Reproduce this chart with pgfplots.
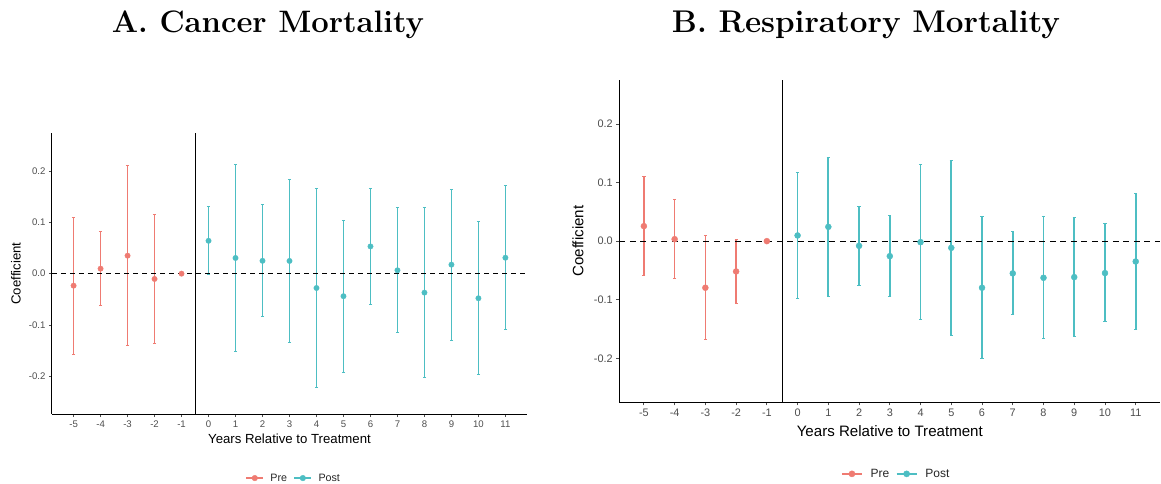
\documentclass[border=0pt]{standalone}
\usepackage{pgfplots}
\pgfplotsset{compat=1.18}
\usepackage{pgfplotstable}
\usepackage{fontspec}
\setsansfont{Liberation Sans}
\definecolor{prec}{HTML}{EF7B72}
\definecolor{postc}{HTML}{4DBEC3}
\definecolor{tickgray}{HTML}{4D4D4D}

\pgfplotstableread{
x y lo hi
-5 -0.0234 -0.157 0.109
-4 0.0097 -0.062 0.082
-3 0.035 -0.141 0.211
-2 -0.0104 -0.136 0.115
-1 0 0 0
}\preA
\pgfplotstableread{
x y lo hi
0 0.064 -0.0026 0.130
1 0.0305 -0.151 0.212
2 0.025 -0.084 0.135
3 0.0247 -0.134 0.183
4 -0.028 -0.222 0.166
5 -0.044 -0.192 0.104
6 0.053 -0.060 0.166
7 0.0065 -0.114 0.129
8 -0.037 -0.202 0.128
9 0.0175 -0.130 0.164
10 -0.048 -0.196 0.101
11 0.031 -0.109 0.171
}\postA
\pgfplotstableread{
x y lo hi
-5 0.0256 -0.059 0.110
-4 0.0034 -0.0636 0.0705
-3 -0.0795 -0.168 0.0097
-2 -0.0517 -0.1057 0.0023
-1 0 0 0
}\preB
\pgfplotstableread{
x y lo hi
0 0.0097 -0.0977 0.1165
1 0.0244 -0.094 0.143
2 -0.008 -0.075 0.0597
3 -0.0256 -0.094 0.043
4 -0.0017 -0.134 0.131
5 -0.0114 -0.161 0.138
6 -0.0795 -0.2006 0.0415
7 -0.055 -0.126 0.0165
8 -0.0625 -0.1665 0.0415
9 -0.0614 -0.162 0.0398
10 -0.0545 -0.1375 0.0295
11 -0.0347 -0.1506 0.0813
}\postB

\pgfplotsset{
  es/.style={
    scale only axis,
    axis x line*=bottom, axis y line*=left,
    axis line style={black, line width=1pt, -},
    tick align=outside,
    major tick length=3pt,
    tick style={tickgray, line width=0.8pt},
    xmin=-5.8, xmax=11.8,
    xtick={-5,-4,-3,-2,-1,0,1,2,3,4,5,6,7,8,9,10,11},
    xticklabels={-5,-4,-3,-2,-1,0,1,2,3,4,5,6,7,8,9,10,11},
    ytick={-0.2,-0.1,0,0.1,0.2},
    yticklabels={-0.2,-0.1,0.0,0.1,0.2},
    /pgf/number format/assume math mode=true,
    xlabel={Years Relative to Treatment},
    ylabel={Coefficient},
    legend columns=2,
    clip=false,
  },
  eb/.style={
    only marks, mark=*, color=#1,
    mark options={fill=#1, draw=#1},
    error bars/.cd, y dir=both, y explicit,
    error bar style={line width=1.7pt, color=#1},
    error mark options={rotate=90, mark size=1.6pt, line width=1pt, color=#1},
    /pgfplots/.cd,
  },
}

\begin{document}
\begin{tikzpicture}
\useasboundingbox (0,0) rectangle (1161pt,483pt);

% Panel A
\begin{axis}[es,
  at={(52pt,69pt)}, anchor=south west,
  width=475pt, height=281pt,
  ymin=-0.2735, ymax=0.274,
  title={A. Cancer Mortality},
  title style={at={(axis description cs:0.4547,1.338)}, anchor=base,
    font=\rmfamily\bfseries\fontsize{31}{36}\selectfont},
  ticklabel style={font=\sffamily\fontsize{9.6}{11}\selectfont, text=tickgray},
  xlabel style={at={(axis description cs:0.5,-0.089)}, anchor=center,
    font=\sffamily\fontsize{13.2}{15}\selectfont},
  ylabel style={at={(axis description cs:-0.0758,0.5)}, anchor=center,
    font=\sffamily\fontsize{13.2}{15}\selectfont},
  legend style={draw=none, fill=none, at={(0.509,-0.228)}, anchor=center,
    font=\sffamily\fontsize{10.7}{12}\selectfont, text=black!85,
    /tikz/every even column/.append style={column sep=4.5pt},
    /tikz/every odd column/.append style={column sep=4.5pt}},
  mark size=2.7pt,
]
\addplot[legend image code/.code={\draw[prec, line width=1.4pt] (0pt,0pt) -- (17pt,0pt); \fill[prec] (8.5pt,0pt) circle (2.8pt);}, eb=prec]
  table[x=x, y=y, y error plus expr=\thisrow{hi}-\thisrow{y}, y error minus expr=\thisrow{y}-\thisrow{lo}] {\preA};
\addlegendentry{Pre}
\addplot[legend image code/.code={\draw[postc, line width=1.4pt] (0pt,0pt) -- (17pt,0pt); \fill[postc] (8.5pt,0pt) circle (2.8pt);}, eb=postc]
  table[x=x, y=y, y error plus expr=\thisrow{hi}-\thisrow{y}, y error minus expr=\thisrow{y}-\thisrow{lo}] {\postA};
\addlegendentry{Post}
\addplot[forget plot, black, line width=1pt, dash pattern=on 5pt off 4pt] coordinates {(-5.8,0) (11.8,0)};
\addplot[forget plot, black, line width=1pt] coordinates {(-0.5,-0.2735) (-0.5,0.274)};
\end{axis}

% Panel B
\begin{axis}[es,
  at={(619.3pt,80.7pt)}, anchor=south west,
  width=541pt, height=322.3pt,
  ymin=-0.275, ymax=0.275,
  title={B. Respiratory Mortality},
  title style={at={(axis description cs:0.456,1.130)}, anchor=base,
    font=\rmfamily\bfseries\fontsize{31.4}{36}\selectfont},
  ticklabel style={font=\sffamily\fontsize{10.9}{12}\selectfont, text=tickgray},
  xlabel style={at={(axis description cs:0.5,-0.088)}, anchor=center,
    font=\sffamily\fontsize{15.1}{17}\selectfont},
  ylabel style={at={(axis description cs:-0.0763,0.5)}, anchor=center,
    font=\sffamily\fontsize{15.1}{17}\selectfont},
  legend style={draw=none, fill=none, at={(0.512,-0.222)}, anchor=center,
    font=\sffamily\fontsize{12}{13}\selectfont, text=black!85,
    /tikz/every even column/.append style={column sep=4.5pt},
    /tikz/every odd column/.append style={column sep=6pt}},
  mark size=3pt,
]
\addplot[legend image code/.code={\draw[prec, line width=1.5pt] (0pt,0pt) -- (20pt,0pt); \fill[prec] (10pt,0pt) circle (3.1pt);}, eb=prec]
  table[x=x, y=y, y error plus expr=\thisrow{hi}-\thisrow{y}, y error minus expr=\thisrow{y}-\thisrow{lo}] {\preB};
\addlegendentry{Pre}
\addplot[legend image code/.code={\draw[postc, line width=1.5pt] (0pt,0pt) -- (20pt,0pt); \fill[postc] (10pt,0pt) circle (3.1pt);}, eb=postc]
  table[x=x, y=y, y error plus expr=\thisrow{hi}-\thisrow{y}, y error minus expr=\thisrow{y}-\thisrow{lo}] {\postB};
\addlegendentry{Post}
\addplot[forget plot, black, line width=1pt, dash pattern=on 6pt off 4.5pt] coordinates {(-5.8,0) (11.8,0)};
\addplot[forget plot, black, line width=1pt] coordinates {(-0.5,-0.275) (-0.5,0.275)};
\end{axis}
\end{tikzpicture}
\end{document}
